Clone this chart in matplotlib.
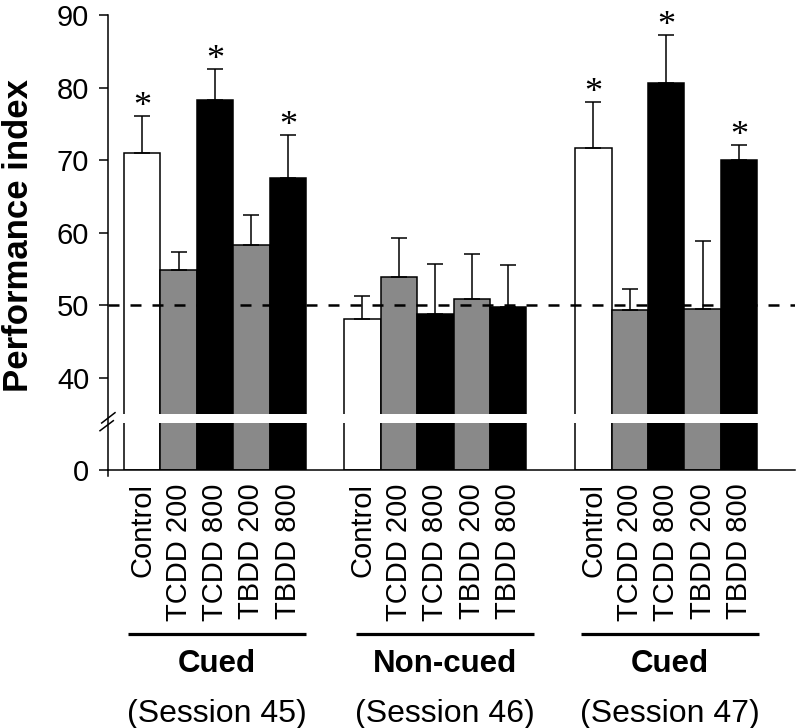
import numpy as np
import matplotlib.pyplot as plt

plt.rcParams['font.family'] = 'Liberation Sans'

conditions = ['Control', 'TCDD 200', 'TCDD 800', 'TBDD 200', 'TBDD 800']
tasks = ['Cued', 'Non-cued', 'Cued']
sessions = ['(Session 45)', '(Session 46)', '(Session 47)']

# mean performance index per session, one value per condition
means_s45 = [71.0, 54.8, 78.3, 58.3, 67.6]
means_s46 = [48.1, 53.9, 48.8, 50.8, 49.8]
means_s47 = [71.7, 49.3, 80.6, 49.5, 70.0]

# upper error (SEM)
sem_s45 = [5.1, 2.6, 4.2, 4.2, 5.8]
sem_s46 = [3.2, 5.4, 6.9, 6.2, 5.7]
sem_s47 = [6.3, 3.0, 6.6, 9.4, 2.1]

# significant vs chance (50)
sig_s45 = [1, 0, 1, 0, 1]
sig_s46 = [0, 0, 0, 0, 0]
sig_s47 = [1, 0, 1, 0, 1]

chance = 50

means = [means_s45, means_s46, means_s47]
sems = [sem_s45, sem_s46, sem_s47]
sigs = [sig_s45, sig_s46, sig_s47]

bar_colors = ['white', '#898989', 'black', '#898989', 'black']

# broken y axis: everything below BREAK is squeezed
BREAK = 35.0
SQUEEZE = 0.22


def fwd(y):
    y = np.asarray(y, dtype=float)
    return np.where(y >= BREAK, y, BREAK - (BREAK - y) * SQUEEZE)


def inv(z):
    z = np.asarray(z, dtype=float)
    return np.where(z >= BREAK, z, BREAK - (BREAK - z) / SQUEEZE)


fig = plt.figure(figsize=(7.96, 7.28), dpi=100)
ax = fig.add_axes([108 / 796, 258 / 728, 687 / 796, 455 / 728])
ax.set_yscale('function', functions=(fwd, inv))

group_start = [0, 6.05, 12.39]
label_shift = [0.05, 0.27, 0.11]

xs_all = []
for g in range(3):
    x = group_start[g] + np.arange(len(conditions)) + 0.5
    xs_all.extend(x)
    ax.bar(x, means[g], width=1.0, color=bar_colors, edgecolor='black',
           linewidth=1.1, zorder=1)
    ax.errorbar(x, means[g], yerr=[np.zeros(len(x)), sems[g]], fmt='none',
                ecolor='black', elinewidth=1.1, capsize=6, capthick=1.1, zorder=2)
    for xi, m, s, flag in zip(x, means[g], sems[g], sigs[g]):
        if flag:
            ax.text(xi, m + s, '*', ha='center', va='baseline', fontsize=26,
                    family='Liberation Serif', zorder=4)

# white band for the axis break
ax.axhspan(inv(BREAK - 9 / 7.256), BREAK, color='white', lw=0, zorder=2)

ax.axhline(chance, color='black', lw=1.8, ls=(0, (4.4, 4.4)), zorder=3)

ax.set_ylim(0, 90)
ax.set_xlim(-0.44, 18.43)
ax.set_yticks([0, 40, 50, 60, 70, 80, 90])
ax.set_yticklabels(['0', '40', '50', '60', '70', '80', '90'])
ax.set_xticks(xs_all)
ax.set_xticklabels(conditions * 3, rotation=90, va='top', ha='center')

ax.tick_params(axis='y', direction='out', length=6.5, width=1.1, pad=7, labelsize=21)
ax.tick_params(axis='x', length=0, pad=9.5, labelsize=21)
ax.spines['top'].set_visible(False)
ax.spines['right'].set_visible(False)
for sp in ['left', 'bottom']:
    ax.spines[sp].set_linewidth(1.1)

# break marks on the y axis
def px(xp, yp):
    return (xp - 108) / 687, (470 - yp) / 455

for (x0, y0), (x1, y1) in [((101.7, 423), (115, 412.7)), ((100, 430.7), (113.3, 420.7))]:
    a = px(x0, y0)
    b = px(x1, y1)
    ax.plot([a[0], b[0]], [a[1], b[1]], color='black', lw=1.1,
            transform=ax.transAxes, clip_on=False, zorder=5)
ax.plot([0, 0], [0, -6 / 455], color='black', lw=1.1,
        transform=ax.transAxes, clip_on=False)

fig.text(19 / 796, 1 - 236 / 728, 'Performance index', rotation=90,
         ha='center', va='center', fontsize=25, fontweight='bold')

# group annotations under the tick labels
tr = ax.get_xaxis_transform()
for g in range(3):
    c = group_start[g] + 2.5 + label_shift[g]
    ax.plot([c - 2.45, c + 2.45], [(470 - 634) / 455] * 2, color='black',
            lw=2.3, transform=tr, clip_on=False, solid_capstyle='butt')
    ax.text(c, (470 - 672) / 455, tasks[g], transform=tr, ha='center',
            va='baseline', fontsize=22.5, fontweight='bold')
    ax.text(c, (470 - 722) / 455, sessions[g], transform=tr, ha='center',
            va='baseline', fontsize=23)

fig.savefig('out.png', dpi=100)
